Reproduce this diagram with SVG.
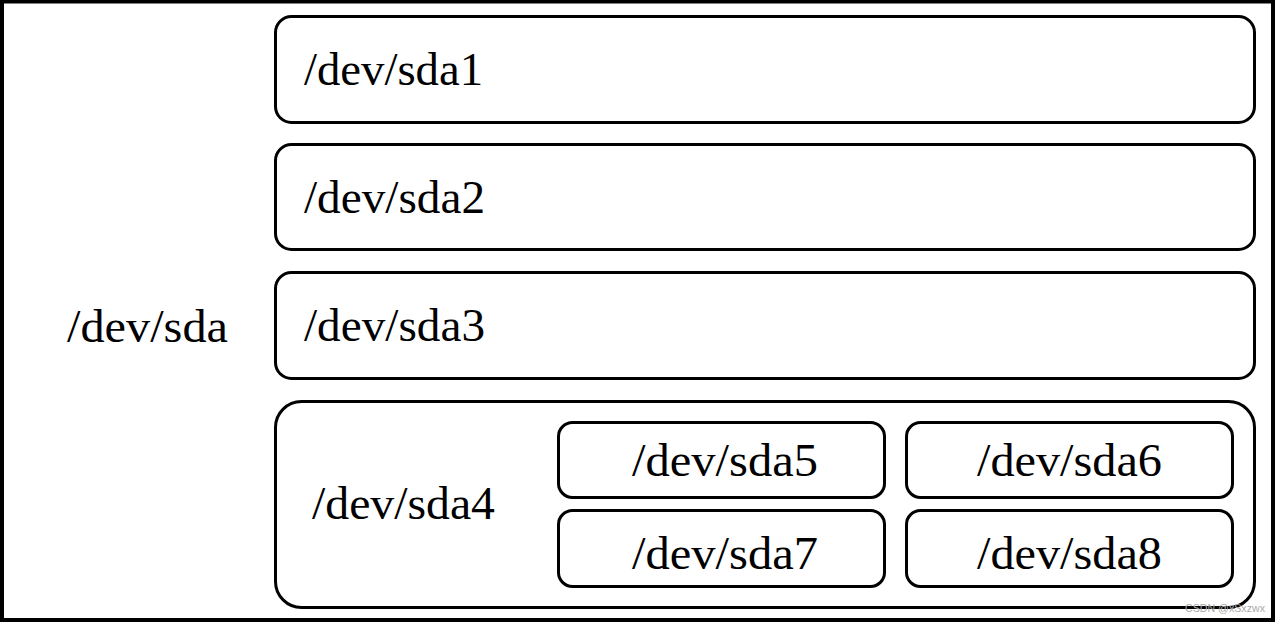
<svg xmlns="http://www.w3.org/2000/svg" width="1280" height="623" viewBox="0 0 1280 623">
<style>
.box{fill:#fff;stroke:#000;stroke-width:3}
.t{font-family:"Liberation Serif","Times New Roman",serif;font-size:46px;fill:#000}
.wm{font-family:"Liberation Sans",Arial,sans-serif;font-size:11px;fill:#aaa}
</style>
<rect x="0" y="0" width="1280" height="623" fill="#fff"/>
<rect x="2" y="1.5" width="1271" height="618.5" fill="none" stroke="#000" stroke-width="4"/>
<g id="sda"><text class="t" x="67" y="342" textLength="161" lengthAdjust="spacingAndGlyphs">/dev/sda</text></g>
<g id="sda1"><rect class="box" x="275.5" y="16.5" width="979" height="106" rx="16"/><text class="t" x="304" y="85" textLength="179" lengthAdjust="spacingAndGlyphs">/dev/sda1</text></g>
<g id="sda2"><rect class="box" x="275.5" y="144.5" width="979" height="105" rx="16"/><text class="t" x="304" y="213" textLength="181" lengthAdjust="spacingAndGlyphs">/dev/sda2</text></g>
<g id="sda3"><rect class="box" x="275.5" y="272.5" width="979" height="106" rx="16"/><text class="t" x="304" y="341" textLength="181" lengthAdjust="spacingAndGlyphs">/dev/sda3</text></g>
<g id="sda4"><rect class="box" x="275.5" y="401.5" width="979" height="206" rx="26"/><text class="t" x="312" y="519" textLength="183" lengthAdjust="spacingAndGlyphs">/dev/sda4</text></g>
<g id="sda5"><rect class="box" x="558.5" y="422.5" width="326" height="75" rx="14"/><text class="t" x="632" y="476" textLength="186" lengthAdjust="spacingAndGlyphs">/dev/sda5</text></g>
<g id="sda6"><rect class="box" x="906.5" y="422.5" width="326" height="75" rx="14"/><text class="t" x="977" y="476" textLength="185" lengthAdjust="spacingAndGlyphs">/dev/sda6</text></g>
<g id="sda7"><rect class="box" x="558.5" y="510.5" width="326" height="76" rx="14"/><text class="t" x="632" y="569" textLength="186" lengthAdjust="spacingAndGlyphs">/dev/sda7</text></g>
<g id="sda8"><rect class="box" x="906.5" y="510.5" width="326" height="76" rx="14"/><text class="t" x="977" y="569" textLength="185" lengthAdjust="spacingAndGlyphs">/dev/sda8</text></g>
<g id="connectors"></g>
<text class="wm" x="1185" y="612" textLength="80" lengthAdjust="spacingAndGlyphs">CSDN @xSxzwx</text>
</svg>
